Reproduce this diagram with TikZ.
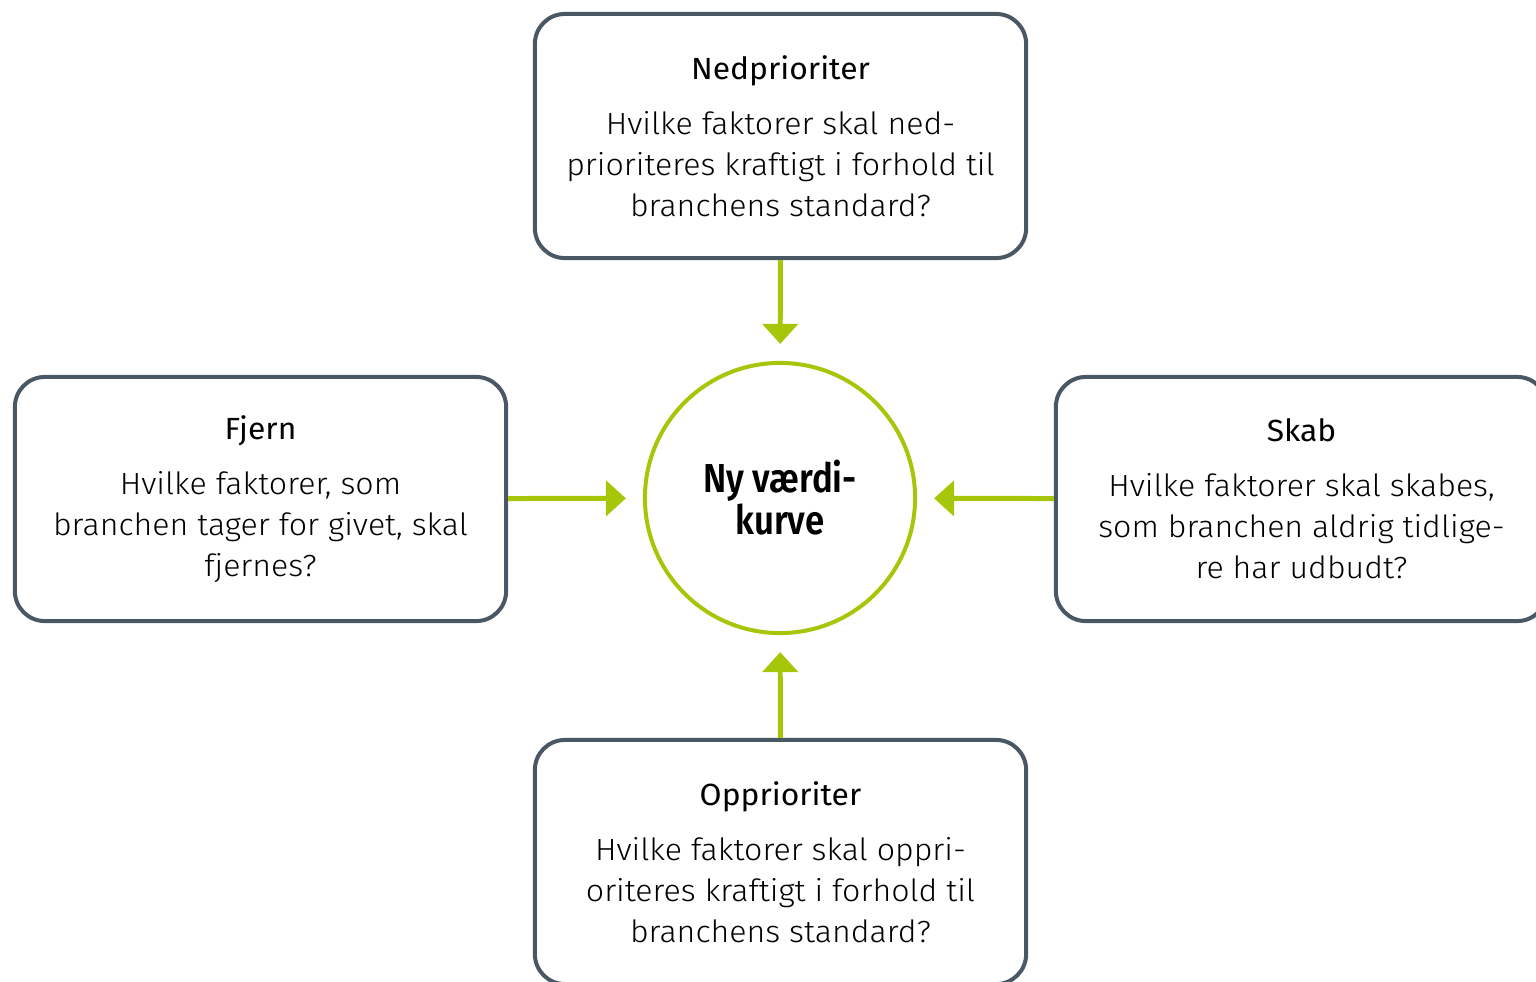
\documentclass[tikz,border=0pt]{standalone}
\usepackage{fontspec}
\usetikzlibrary{arrows.meta}
\newfontfamily\bodyfont{Fira Sans Light}[FakeStretch=1.05]
\newfontfamily\headfont{Fira Sans}[FakeStretch=1.04]
\newfontfamily\hubfont{Fira Sans SemiBold}[FakeStretch=0.86]
\definecolor{slate}{HTML}{4A5866}
\definecolor{lime}{HTML}{A6C60A}
\tikzset{
  qbox/.style={draw=slate, line width=1.14pt, rounded corners=0.3cm, fill=white,
    minimum width=4.91cm, minimum height=2.44cm, inner sep=0pt, align=center,
    font=\bodyfont\fontsize{8.7}{11.67}\selectfont},
  hub/.style={circle, draw=lime, line width=1.14pt, minimum size=2.7cm, inner sep=0pt,
    align=center, font=\hubfont\fontsize{11.5}{11.95}\selectfont},
  flow/.style={draw=lime, line width=1.42pt, -{Triangle[width=3.5mm,length=2mm]},
    shorten >=1.7mm},
}
\begin{document}
\begin{tikzpicture}[x=0.01cm, y=-0.01cm]
  \useasboundingbox (0,0) rectangle (1536,981);
  \clip (0,0) rectangle (1536,981);

  % central value curve
  \node[hub] (ctr) at (780,498) {Ny værdi-\\kurve};

  % the four question boxes
  \node[qbox] (top) at (780.5,136) {{\headfont Nedprioriter}\\[4pt]
    Hvilke faktorer skal ned-\\prioriteres kraftigt i forhold til\\branchens standard?};
  \node[qbox] (left) at (260.5,499) {{\headfont Fjern}\\[4pt]
    Hvilke faktorer, som\\branchen tager for givet, skal\\fjernes?};
  \node[qbox] (right) at (1301.5,499) {{\headfont Skab}\\[4pt]
    Hvilke faktorer skal skabes,\\som branchen aldrig tidlige-\\re har udbudt?};
  \node[qbox] (bottom) at (780.5,862) {{\headfont Opprioriter}\\[4pt]
    Hvilke faktorer skal oppri-\\oriteres kraftigt i forhold til\\branchens standard?};

  % arrows into the centre
  \draw[flow] (top) -- (ctr);
  \draw[flow] (left) -- (ctr);
  \draw[flow] (right) -- (ctr);
  \draw[flow] (bottom) -- (ctr);
\end{tikzpicture}
\end{document}
